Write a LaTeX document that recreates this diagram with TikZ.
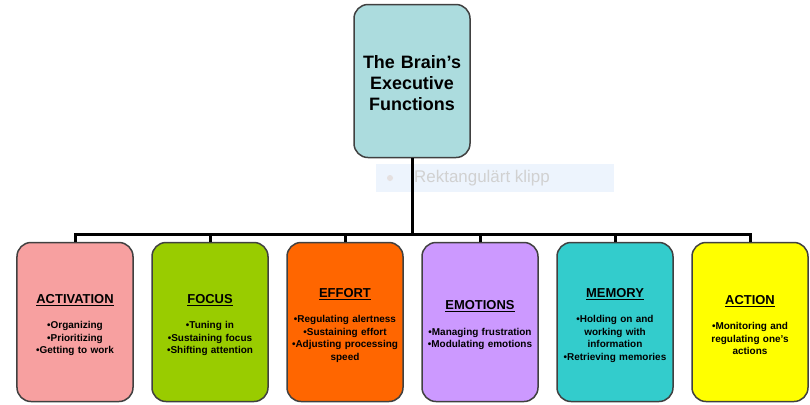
\documentclass[tikz,border=0pt]{standalone}
\usepackage{fontspec}
\setmainfont{Liberation Sans}
\usepackage{tikz}
\definecolor{brainblue}{RGB}{172,220,222}
\definecolor{actpink}{RGB}{247,160,160}
\definecolor{focgreen}{RGB}{153,204,0}
\definecolor{effortange}{RGB}{255,102,0}
\definecolor{emolilac}{RGB}{204,153,255}
\definecolor{memteal}{RGB}{51,204,204}
\definecolor{actyellow}{RGB}{255,255,0}
\definecolor{clipblue}{RGB}{237,244,253}
\newcommand{\fhead}[1]{{\fontsize{13}{15}\selectfont\rule{0pt}{15.5bp}\underline{#1}}\\[13bp]}
\begin{document}
\begin{tikzpicture}[x=1bp,y=-1bp,
  fbox/.style={draw=black!75,line width=1.5bp,rounded corners=14bp,
    minimum width=116bp,minimum height=159bp,inner sep=1bp,text width=114bp,
    align=center,font=\bfseries\fontsize{10}{12.5}\selectfont},
  link/.style={line width=3bp,black}]
\useasboundingbox (0,0) rectangle (810,404);
% snipping tool label
\fill[clipblue] (376,164) rectangle (614,192);
\fill[red!15!black!12] (390,178) circle (3bp);
\node[anchor=west,text=black!18,font=\fontsize{17}{19}\selectfont,inner sep=0] (clip) at (414,178) {Rektangulärt klipp};
% boxes
\node[fbox,fill=brainblue,minimum height=153bp,font=\bfseries\fontsize{18}{21}\selectfont] (brain) at (412,81) {\rule{0pt}{17bp}The Brain’s\\Executive\\Functions};
\node[fbox,fill=actpink] (act) at (75,322) {\fhead{ACTIVATION}•Organizing\\•Prioritizing\\•Getting to work};
\node[fbox,fill=focgreen] (foc) at (210,322) {\fhead{FOCUS}•Tuning in\\•Sustaining focus\\•Shifting attention};
\node[fbox,fill=effortange] (eff) at (345,322) {\fhead{EFFORT}•Regulating alertness\\•Sustaining effort\\•Adjusting processing\\speed};
\node[fbox,fill=emolilac] (emo) at (480,322) {\fhead{EMOTIONS}•Managing frustration\\•Modulating emotions};
\node[fbox,fill=memteal] (mem) at (615,322) {\fhead{MEMORY}•Holding on and\\working with\\information\\•Retrieving memories};
\node[fbox,fill=actyellow] (action) at (750,322) {\fhead{ACTION}•Monitoring and\\regulating one’s\\actions};
% tree lines
\coordinate (bar) at (412,234);
\draw[link] (brain.south) -- (bar);
\draw[link] (act.north) -- (act.north |- bar) -- (action.north |- bar) -- (action.north);
\foreach \n in {foc,eff,emo,mem} \draw[link] (\n.north) -- (\n.north |- bar);
\end{tikzpicture}
\end{document}
